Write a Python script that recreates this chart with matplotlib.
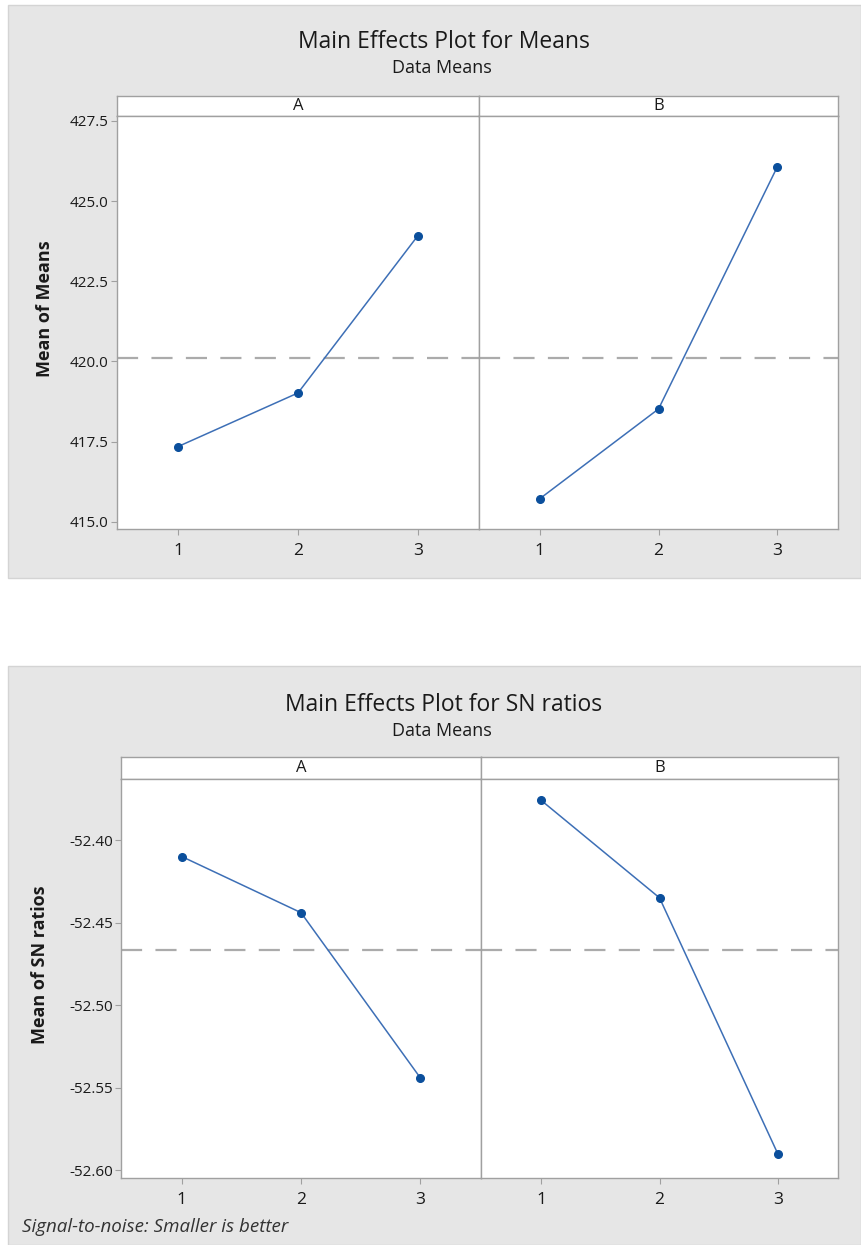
import matplotlib
matplotlib.use("Agg")
import matplotlib.pyplot as plt
from matplotlib.patches import Rectangle
from matplotlib.ticker import FormatStrFormatter
import numpy as np

# ---- data ----
levels = [1, 2, 3]
factors = ["A", "B"]
means_A = [417.35, 419.02, 423.92]
means_B = [415.72, 418.52, 426.07]
sn_A = [-52.410, -52.444, -52.544]
sn_B = [-52.376, -52.435, -52.590]
means_yticks = [415.0, 417.5, 420.0, 422.5, 425.0, 427.5]
sn_yticks = [-52.60, -52.55, -52.50, -52.45, -52.40]

plt.rcParams['axes.unicode_minus'] = False
plt.rcParams['font.family'] = ['Open Sans', 'DejaVu Sans']

W, H = 861, 1245
fig = plt.figure(figsize=(W / 100, H / 100), dpi=100)
fig.patch.set_facecolor('white')

BG = '#e6e6e6'
SPINE = '#a0a0a0'
LINE = '#3d6fb6'
MARK = '#0b4f9c'
DASH = '#ababab'
TXT = '#1a1a1a'


def fx(x):
    return x / W


def fy(y):
    return 1 - y / H


def add_bg(x0, y0, x1, y1):
    fig.patches.append(Rectangle((fx(x0), fy(y1)), fx(x1) - fx(x0), fy(y0) - fy(y1),
                                 transform=fig.transFigure, facecolor=BG,
                                 edgecolor='#d4d4d4', lw=1.0, zorder=-10))


def make_chart(top, title, ylabel, vals, ylim, yticks, fmt,
               x_left, x_div, x_right, strip_top, ax_top, ax_bot, ylabel_x):
    # titles
    fig.text(fx(444), fy(top + 42), title, ha='center', va='center',
             fontsize=16.5, color=TXT)
    fig.text(fx(442), fy(top + 68), 'Data Means', ha='center', va='center',
             fontsize=13, color=TXT)
    overall = np.mean(np.concatenate([np.asarray(v) for v in vals]))
    bounds = [(x_left, x_div), (x_div, x_right)]
    for i, (name, v) in enumerate(zip(factors, vals)):
        xa, xb = bounds[i]
        # strip
        sax = fig.add_axes([fx(xa), fy(ax_top), fx(xb) - fx(xa), fy(strip_top) - fy(ax_top)])
        sax.set_facecolor('white')
        sax.set_xticks([])
        sax.set_yticks([])
        for s in sax.spines.values():
            s.set_color(SPINE)
            s.set_linewidth(1.0)
        sax.text(0.5, 0.5, name, ha='center', va='center', fontsize=12,
                 color=TXT, transform=sax.transAxes)
        # panel
        ax = fig.add_axes([fx(xa), fy(ax_bot), fx(xb) - fx(xa), fy(ax_top) - fy(ax_bot)])
        ax.set_facecolor('white')
        ax.plot(levels, v, color=LINE, lw=1.1, zorder=3)
        ax.plot(levels, v, 'o', color=MARK, ms=5.5, zorder=4)
        ax.axhline(overall, color=DASH, lw=1.6, ls=(0, (9.5, 6.0)), zorder=2)
        ax.set_xlim(0.49, 3.51)
        ax.set_ylim(*ylim)
        ax.set_xticks(levels)
        ax.set_xticklabels([str(l) for l in levels])
        ax.tick_params(axis='x', length=4, width=0.8, color=SPINE, labelsize=12.5,
                       labelcolor=TXT, pad=6)
        for s in ax.spines.values():
            s.set_color(SPINE)
            s.set_linewidth(1.0)
        if i == 0:
            ax.set_yticks(yticks)
            ax.yaxis.set_major_formatter(FormatStrFormatter(fmt))
            ax.tick_params(axis='y', length=4, width=0.8, color=SPINE, labelsize=11,
                           labelcolor=TXT, pad=2)
            fig.text(fx(ylabel_x), fy(0.5 * (ax_top + ax_bot) - 14), ylabel, rotation=90,
                     ha='center', va='center', fontsize=13, fontweight='bold',
                     color=TXT)
        else:
            ax.set_yticks([])


add_bg(8, 5, 861, 578)
add_bg(8, 666, 861, 1245)

make_chart(0, 'Main Effects Plot for Means', 'Mean of Means', [means_A, means_B],
           (414.78, 427.65), means_yticks, '%.1f',
           117, 479, 838, 96, 116, 529, 45)

make_chart(663, 'Main Effects Plot for SN ratios', 'Mean of SN ratios', [sn_A, sn_B],
           (-52.6048, -52.363), sn_yticks, '%.2f',
           121, 481, 838, 757, 779, 1178, 40)

fig.text(fx(22), fy(1227), 'Signal-to-noise: Smaller is better', ha='left', va='center',
         fontsize=13.5, style='italic', color='#333333')

fig.savefig('out.png', dpi=100, facecolor='white')
